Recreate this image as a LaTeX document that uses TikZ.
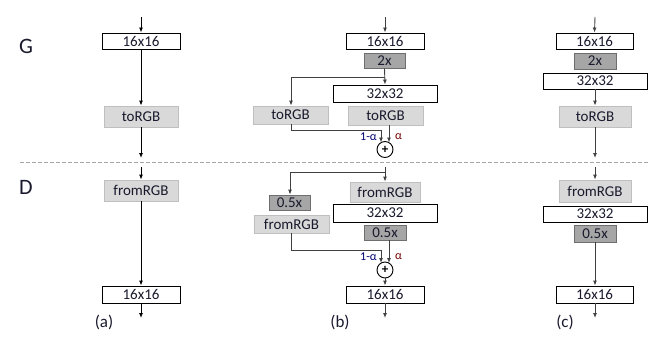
\documentclass[tikz,border=0pt]{standalone}
\usepackage{fontspec}
\setmainfont{Carlito}
\usetikzlibrary{arrows.meta}
\definecolor{darkfill}{HTML}{A6A6A6}
\definecolor{darkline}{HTML}{6E6E6E}
\definecolor{lightfill}{HTML}{D9D9D9}
\definecolor{lightline}{HTML}{BFBFBF}
\definecolor{conn}{HTML}{404040}
\definecolor{txt}{HTML}{1A1A2E}
\begin{document}
\begin{tikzpicture}[x=1pt,y=-1pt,
  box/.style={draw=black,line width=0.9pt,fill=white,inner sep=0pt,text=txt,font=\fontsize{15}{16}\selectfont},
  dark/.style={draw=darkline,line width=0.8pt,fill=darkfill,inner sep=0pt,text=txt,font=\fontsize{15}{16}\selectfont},
  light/.style={draw=lightline,line width=0.8pt,fill=lightfill,inner sep=0pt,text=txt,font=\fontsize{15}{16}\selectfont},
  plus/.style={circle,draw=black,line width=0.9pt,fill=white,minimum size=16pt,inner sep=0pt,font=\fontsize{13}{13}\selectfont\bfseries},
  arr/.style={-{Latex[length=5pt,width=4pt]},line width=0.9pt,draw=conn},
  ln/.style={line width=0.9pt,draw=conn},
  lbl/.style={font=\fontsize{22}{24}\selectfont,text=txt},
  sub/.style={font=\fontsize{17}{19}\selectfont,text=txt},
  coef/.style={font=\fontsize{12}{12}\selectfont,inner sep=0pt}
]
\useasboundingbox (0,0) rectangle (664,345);

% labels
\node[lbl] (G) at (26,46) {G};
\node[lbl] (D) at (26,187) {D};
\node[sub] (la) at (104,322) {(a)};
\node[sub] (lb) at (340,322) {(b)};
\node[sub] (lc) at (565,322) {(c)};

% dashed separator
\coordinate (dl) at (20,162);
\coordinate (dr) at (648,162);
\draw[gray!70,dashed,dash pattern=on 4pt off 2pt,line width=0.8pt] (dl) -- (dr);

% ---------- (a) ----------
\node[box,minimum width=78pt,minimum height=16pt] (a16t) at (141,41) {16x16};
\node[light,minimum width=74pt,minimum height=21pt] (ator) at (141,116.5) {toRGB};
\node[light,minimum width=74pt,minimum height=21pt] (afrom) at (141,190.5) {fromRGB};
\node[box,minimum width=78pt,minimum height=17pt] (a16b) at (141,294.5) {16x16};
\coordinate (ain) at (141,17);
\coordinate (agout) at (141,158);
\coordinate (adin) at (141,167);
\coordinate (aout) at (141,318);
\draw[arr,draw=black] (ain) -- (a16t.north);
\draw[arr,draw=black] (a16t.south) -- (ator.north);
\draw[arr,draw=black] (ator.south) -- (agout);
\draw[arr,draw=black] (adin) -- (afrom.north);
\draw[arr,draw=black] (afrom.south) -- (a16b.north);
\draw[arr,draw=black] (a16b.south) -- (aout);

% ---------- (b) generator ----------
\node[box,minimum width=78pt,minimum height=16pt] (b16t) at (385,41) {16x16};
\node[dark,minimum width=41pt,minimum height=15pt] (b2x) at (384.5,60.5) {2x};
\node[box,minimum width=104pt,minimum height=17pt] (b32t) at (385,93.5) {32x32};
\node[light,minimum width=75pt,minimum height=18pt] (btorL) at (290.5,115) {toRGB};
\node[light,minimum width=75pt,minimum height=19pt] (btorR) at (385.5,115.5) {toRGB};
\node[plus] (bp1) at (385,149.5) {+};
\coordinate (bin) at (385,17);
\coordinate (bbr1) at (385,77);
\coordinate (bbl1) at (291,77);
\coordinate (bL1a) at (291,130);
\coordinate (bL1b) at (381,130);
\coordinate (bL1c) at (381,142.5);
\coordinate (bR1a) at (389,125);
\coordinate (bR1b) at (389,142.5);
\draw[arr] (bin) -- (b16t.north);
\draw[arr] (b2x.south) -- (b32t.north);
\draw[arr] (bbr1) -- (bbl1) -- (bbl1 |- btorL.north);
\draw[ln] (btorL.south -| bL1a) -- (bL1a) -- (bL1b);
\draw[arr] (bL1b) -- (bL1c);
\draw[arr] (bR1a) -- (bR1b);
\node[coef,anchor=east,text=black!55!blue] (bc1) at (377,137) {1-α};
\node[coef,anchor=west,text=black!55!red] (ba1) at (395,137) {α};

% ---------- (b) discriminator ----------
\node[light,minimum width=70pt,minimum height=20pt] (bfromR) at (385,192) {fromRGB};
\node[box,minimum width=104pt,minimum height=18pt] (b32b) at (385,213) {32x32};
\node[dark,minimum width=42pt,minimum height=15pt] (b05R) at (385,232.5) {0.5x};
\node[dark,minimum width=41pt,minimum height=15pt] (b05L) at (289.5,202.5) {0.5x};
\node[light,minimum width=75pt,minimum height=18pt] (bfromL) at (291.5,224) {fromRGB};
\node[plus] (bp2) at (385,270) {+};
\node[box,minimum width=78pt,minimum height=17pt] (b16b) at (385,294.5) {16x16};
\coordinate (bdin) at (385,167);
\coordinate (bbr2) at (385,172);
\coordinate (bbl2) at (290,172);
\coordinate (bL2a) at (291,250);
\coordinate (bL2b) at (381,250);
\coordinate (bL2c) at (381,263);
\coordinate (bR2a) at (389,240);
\coordinate (bR2b) at (389,263);
\coordinate (bout) at (385,318);
\draw[arr] (bdin) -- (bfromR.north);
\draw[arr] (bbr2) -- (bbl2) -- (bbl2 |- b05L.north);
\draw[ln] (bfromL.south -| bL2a) -- (bL2a) -- (bL2b);
\draw[arr] (bL2b) -- (bL2c);
\draw[arr] (bR2a) -- (bR2b);
\draw[arr] (bp2.south) -- (b16b.north);
\draw[arr] (b16b.south) -- (bout);
\node[coef,anchor=east,text=black!55!blue] (bc2) at (377,257) {1-α};
\node[coef,anchor=west,text=black!55!red] (ba2) at (395,257) {α};

% ---------- (c) ----------
\node[box,minimum width=77pt,minimum height=16pt] (c16t) at (594.5,41) {16x16};
\node[dark,minimum width=42pt,minimum height=16pt] (c2x) at (595,61) {2x};
\node[box,minimum width=104pt,minimum height=16pt] (c32t) at (595,81) {32x32};
\node[light,minimum width=72pt,minimum height=21pt] (ctor) at (595,116.5) {toRGB};
\node[light,minimum width=72pt,minimum height=22pt] (cfrom) at (595,191) {fromRGB};
\node[box,minimum width=104pt,minimum height=16pt] (c32b) at (595,214) {32x32};
\node[dark,minimum width=42pt,minimum height=17pt] (c05) at (595,233.5) {0.5x};
\node[box,minimum width=77pt,minimum height=17pt] (c16b) at (594.5,294.5) {16x16};
\coordinate (cin) at (595,17);
\coordinate (cgout) at (595,158);
\coordinate (cdin) at (595,167);
\coordinate (cout) at (595,318);
\draw[arr] (cin) -- (c16t.north);
\draw[arr] (c32t.south) -- (ctor.north);
\draw[arr] (ctor.south) -- (cgout);
\draw[arr] (cdin) -- (cfrom.north);
\draw[arr] (c05.south) -- (c16b.north -| c05.south);
\draw[arr] (c16b.south -| c05.south) -- (cout);
\end{tikzpicture}
\end{document}
